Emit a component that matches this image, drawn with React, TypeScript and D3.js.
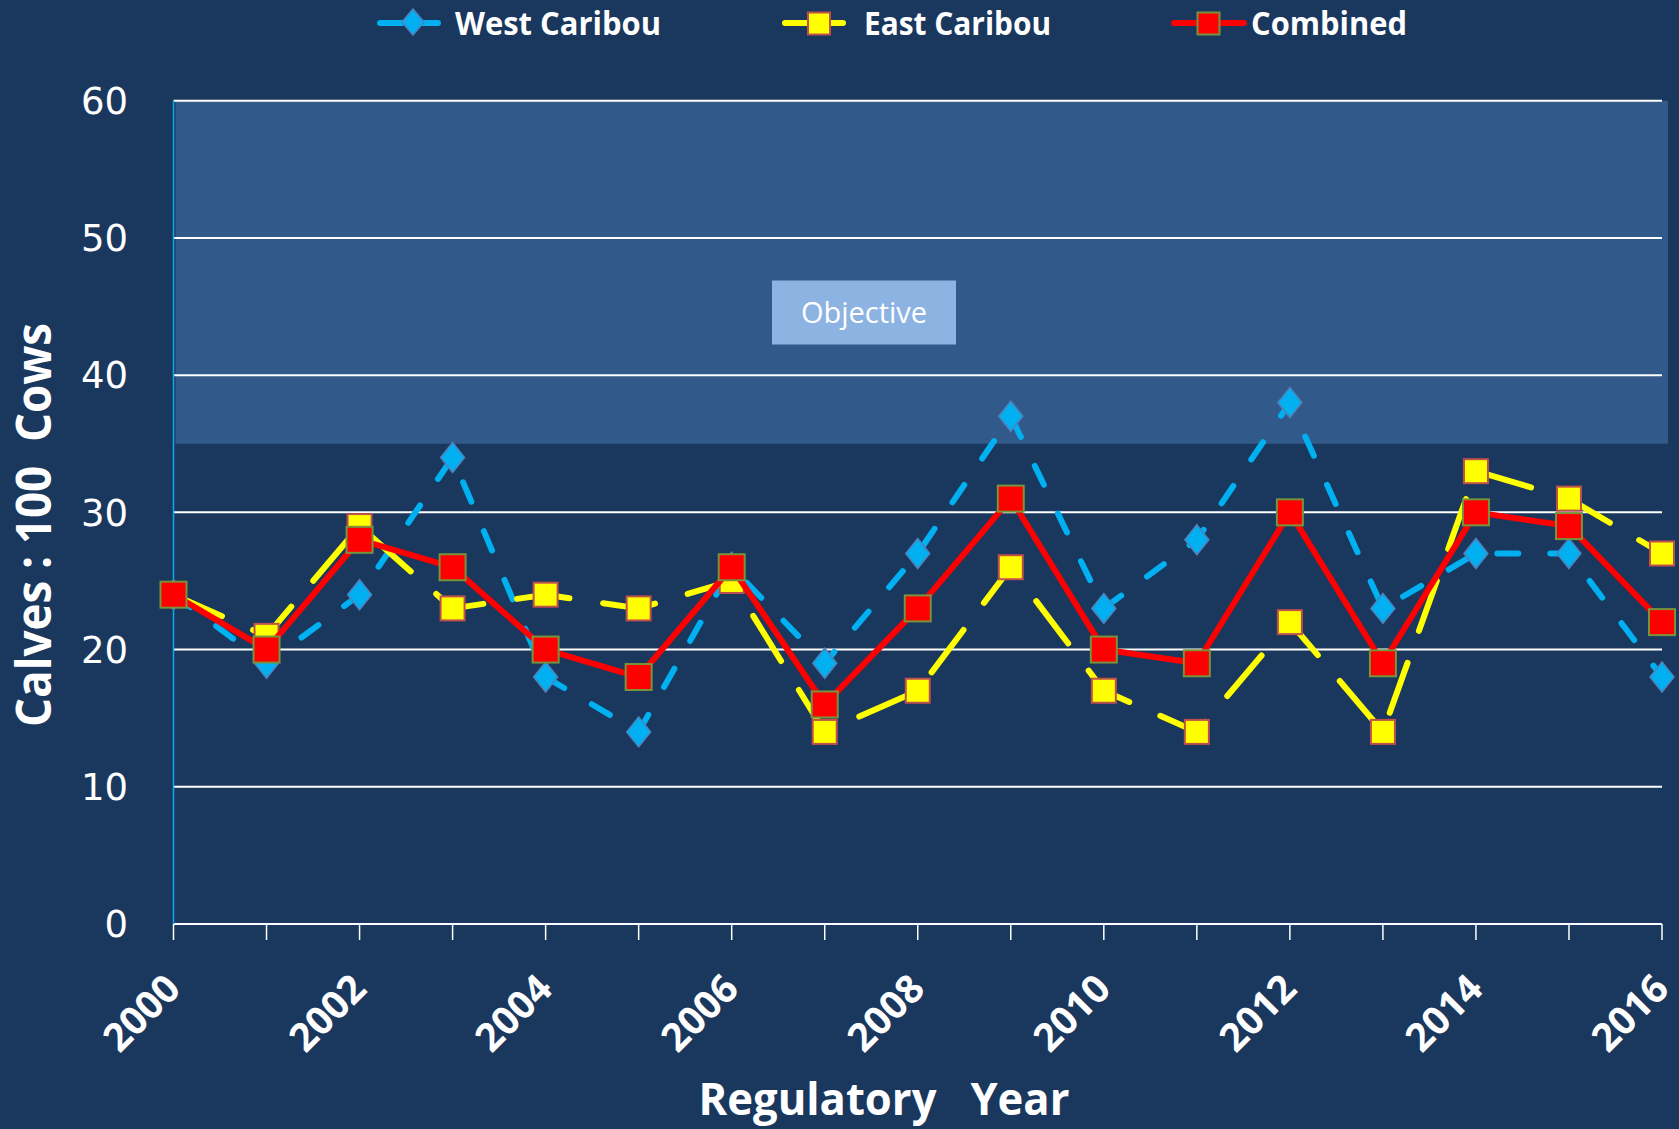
import React from 'react';
import * as d3 from 'd3';

const years = [2000, 2001, 2002, 2003, 2004, 2005, 2006, 2007, 2008, 2009, 2010, 2011, 2012, 2013, 2014, 2015, 2016];
const westCaribou = [24, 19, 24, 34, 18, 14, 26, 19, 27, 37, 23, 28, 38, 23, 27, 27, 18];
const eastCaribou = [24, 21, 29, 23, 24, 23, 25, 14, 17, 26, 17, 14, 22, 14, 33, 31, 27];
const combined = [24, 20, 28, 26, 20, 18, 26, 16, 23, 31, 20, 19, 30, 19, 30, 29, 22];
const yTicks = [0, 10, 20, 30, 40, 50, 60];
const yearLabels = [2000, 2002, 2004, 2006, 2008, 2010, 2012, 2014, 2016];
const objectiveRange = [35, 60];

const W = 1679;
const H = 1129;
const BG = '#1a375e';
const BLUE = '#00b0f0';
const YELLOW = '#ffff00';
const RED = '#ff0000';
const FONT = '"Open Sans", "DejaVu Sans", sans-serif';

const x = d3.scaleLinear().domain([2000, 2016]).range([173.5, 1662]);
const y = d3.scaleLinear().domain([0, 60]).range([924, 100.7]);

const line = d3.line<number>()
  .x((_, i) => x(years[i]))
  .y(d => y(d));

const diamond = (cx: number, cy: number, w: number, h: number) =>
  `M${cx},${cy - h / 2}L${cx + w / 2},${cy}L${cx},${cy + h / 2}L${cx - w / 2},${cy}Z`;

const App: React.FC = () => {
  return (
    <div style={{ position: 'fixed', left: 0, top: 0 }}>
      <svg width={W} height={H} style={{ display: 'block', background: BG }}>
        <rect width={W} height={H} fill={BG} />

        {/* objective band */}
        <rect x={x(2000) + 2} y={y(objectiveRange[1])} width={x(2016) - x(2000) + 4}
          height={y(objectiveRange[0]) - y(objectiveRange[1])} fill="#315a8a" />

        {/* gridlines */}
        {yTicks.map(t => (
          <line key={t} x1={x(2000)} x2={x(2016)} y1={y(t)} y2={y(t)} stroke="#ffffff" strokeWidth={2} />
        ))}
        {yTicks.map(t => (
          <text key={'yt' + t} x={128} y={y(t)} dy="0.36em" textAnchor="end" fill="#fff"
            fontFamily='"DejaVu Sans", sans-serif' fontSize={37}>{t}</text>
        ))}

        {/* axes */}
        <line x1={x(2000)} x2={x(2000)} y1={y(60)} y2={y(0)} stroke={BLUE} strokeWidth={1.5} />
        {years.map(yr => (
          <line key={'xt' + yr} x1={x(yr)} x2={x(yr)} y1={y(0)} y2={y(0) + 16} stroke="#fff" strokeWidth={1.5} />
        ))}
        {yearLabels.map(yr => (
          <text key={'xl' + yr} transform={`translate(${x(yr) + 9},${y(0) + 67}) rotate(-45)`}
            textAnchor="end" fill="#fff" fontFamily={FONT} fontWeight={700} fontSize={39}>{yr}</text>
        ))}

        {/* objective label */}
        <rect x={772} y={280.5} width={184} height={64} fill="#8db3e2" />
        <text x={864} y={312.5} dy="0.35em" textAnchor="middle" fill="#fff" fontFamily={FONT} fontSize={29}>Objective</text>

        {/* West Caribou */}
        <path d={line(westCaribou) || ''} fill="none" stroke={BLUE} strokeWidth={6}
          strokeDasharray="21 32" strokeLinecap="round" strokeLinejoin="round" />
        {westCaribou.map((v, i) => (
          <path key={'w' + i} d={diamond(x(years[i]), y(v), 24, 30)} fill={BLUE} stroke="#4f81bd" strokeWidth={1.5} />
        ))}

        {/* East Caribou */}
        <path d={line(eastCaribou) || ''} fill="none" stroke={YELLOW} strokeWidth={6}
          strokeDasharray="53 34" strokeLinecap="round" strokeLinejoin="round" />
        {eastCaribou.map((v, i) => (
          <rect key={'e' + i} x={x(years[i]) - 12} y={y(v) - 12} width={24} height={24}
            fill={YELLOW} stroke="#c0504d" strokeWidth={2} />
        ))}

        {/* Combined */}
        <path d={line(combined) || ''} fill="none" stroke={RED} strokeWidth={6} strokeLinejoin="round" />
        {combined.map((v, i) => (
          <rect key={'c' + i} x={x(years[i]) - 13} y={y(v) - 13} width={26} height={26}
            fill={RED} stroke="#77933c" strokeWidth={2} />
        ))}

        {/* axis titles */}
        <text transform="translate(51,525) rotate(-90)" textAnchor="middle" fill="#fff" fontFamily={FONT}
          fontWeight={700} fontSize={48} textLength={404} lengthAdjust="spacingAndGlyphs"
          style={{ whiteSpace: 'pre' }}>Calves : 100  Cows</text>
        <text x={884} y={1115} textAnchor="middle" fill="#fff" fontFamily={FONT}
          fontWeight={700} fontSize={45} textLength={371} lengthAdjust="spacingAndGlyphs"
          style={{ whiteSpace: 'pre' }}>Regulatory   Year</text>

        {/* legend */}
        <g>
          <line x1={380} x2={448} y1={23} y2={23} stroke={BLUE} strokeWidth={6} strokeDasharray="22 14" strokeLinecap="round" />
          <path d={diamond(413, 22, 22, 26)} fill={BLUE} stroke="#4f81bd" strokeWidth={1.5} />
          <text x={455} y={35} fill="#fff" fontFamily={FONT} fontWeight={700} fontSize={32}
            textLength={206} lengthAdjust="spacingAndGlyphs">West Caribou</text>

          <line x1={785} x2={843} y1={23} y2={23} stroke={YELLOW} strokeWidth={6} strokeLinecap="round" />
          <rect x={808} y={12.5} width={22} height={22} fill={YELLOW} stroke="#c0504d" strokeWidth={2} />
          <text x={864} y={35} fill="#fff" fontFamily={FONT} fontWeight={700} fontSize={32}
            textLength={187} lengthAdjust="spacingAndGlyphs">East Caribou</text>

          <line x1={1174} x2={1244} y1={23} y2={23} stroke={RED} strokeWidth={6} strokeLinecap="round" />
          <rect x={1197.5} y={12.5} width={22} height={22} fill={RED} stroke="#77933c" strokeWidth={2} />
          <text x={1251} y={35} fill="#fff" fontFamily={FONT} fontWeight={700} fontSize={32}
            textLength={156} lengthAdjust="spacingAndGlyphs">Combined</text>
        </g>
      </svg>
    </div>
  );
};

export default App;
